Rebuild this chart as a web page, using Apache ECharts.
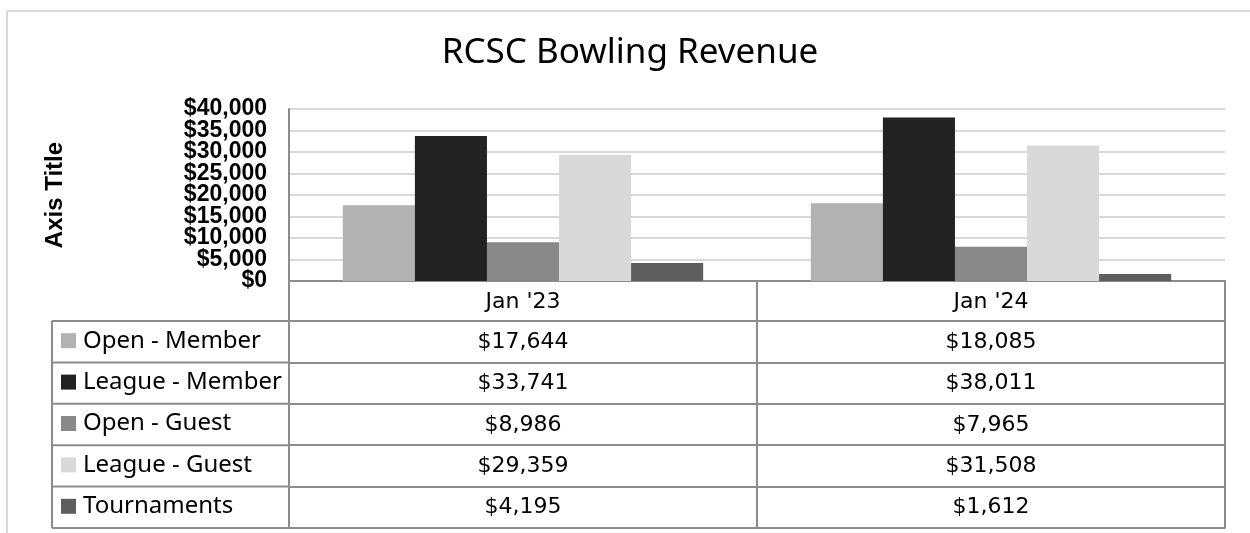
<!DOCTYPE html>
<html>
<head>
<meta charset="utf-8">
<script src="https://cdn.jsdelivr.net/npm/echarts@6/dist/echarts.min.js"></script>
<style>
  html, body { margin: 0; padding: 0; background: #fff; }
  #chart { width: 1250px; height: 533px; }
</style>
</head>
<body>
<div id="chart"></div>
<script>
// Revenue per month, by booking type
const categories = ["Jan '23", "Jan '24"];
const seriesNames = ['Open - Member', 'League - Member', 'Open - Guest', 'League - Guest', 'Tournaments'];
const openMember = [17644, 18085];
const leagueMember = [33741, 38011];
const openGuest = [8986, 7965];
const leagueGuest = [29359, 31508];
const tournaments = [4195, 1612];
const yTicks = { min: 0, max: 40000, interval: 5000 };
const yTickLabels = ['$0', '$5,000', '$10,000', '$15,000', '$20,000', '$25,000', '$30,000', '$35,000', '$40,000'];

const seriesValues = [openMember, leagueMember, openGuest, leagueGuest, tournaments];
const seriesColors = ['#b2b2b2', '#222222', '#898989', '#d9d9d9', '#5e5e5e'];

// layout of plot area and data table
const W = 1250, H = 533;
const plotLeft = 289, plotRight = 1225, plotTop = 109, plotBottom = 281;
const headerH = 40, rowH = 41.4;
const tableLeft = 52;
const lineColor = '#8c8c8c';
const legendFont = 24;

const money = v => '$' + Number(v).toLocaleString('en-US');

const xAxes = [];
// header row of the table: category names
xAxes.push({
  type: 'category', data: categories, position: 'bottom', offset: 0,
  axisLine: { show: true, lineStyle: { color: lineColor, width: 2 } },
  axisTick: { show: true, length: headerH, lineStyle: { color: lineColor, width: 2 } },
  axisLabel: { margin: 10, fontFamily: 'DejaVu Sans', fontSize: 22, color: '#000' }
});
// one row per series, values printed under each category
seriesValues.forEach((vals, i) => {
  xAxes.push({
    type: 'category', data: categories, position: 'bottom', offset: headerH + i * rowH,
    axisLine: { show: true, lineStyle: { color: lineColor, width: 2 } },
    axisTick: { show: true, length: rowH, lineStyle: { color: lineColor, width: 2 } },
    axisLabel: {
      margin: 10, fontFamily: 'DejaVu Sans', fontSize: 22, color: '#000',
      formatter: (v, idx) => money(vals[idx])
    }
  });
});
// closing line under the last row
xAxes.push({
  type: 'category', data: categories, position: 'bottom', offset: headerH + seriesValues.length * rowH,
  axisLine: { show: true, lineStyle: { color: lineColor, width: 2 } },
  axisTick: { show: false }, axisLabel: { show: false }
});

// left column of the table (legend cells)
const tableGraphics = [];
const rowsTop = plotBottom + headerH;
for (let i = 0; i <= seriesValues.length; i++) {
  const y = rowsTop + i * rowH;
  tableGraphics.push({
    type: 'line', silent: true,
    shape: { x1: tableLeft, y1: y, x2: plotLeft, y2: y },
    style: { stroke: lineColor, lineWidth: 2 }
  });
}
tableGraphics.push({
  type: 'line', silent: true,
  shape: { x1: tableLeft, y1: rowsTop, x2: tableLeft, y2: rowsTop + seriesValues.length * rowH },
  style: { stroke: lineColor, lineWidth: 2 }
});
// chart area frame
tableGraphics.push({
  type: 'rect', silent: true, z: -1,
  shape: { x: 7, y: 11, width: W + 20, height: H + 20 },
  style: { fill: 'none', stroke: '#d9d9d9', lineWidth: 2 }
});

const chart = echarts.init(document.getElementById('chart'), null, { renderer: 'canvas' });
chart.setOption({
  animation: false,
  backgroundColor: '#fff',
  title: {
    text: 'RCSC Bowling Revenue',
    left: 630, top: 36, textAlign: 'center', padding: 0,
    textStyle: { fontFamily: 'Noto Sans', fontWeight: 'normal', fontSize: 35, color: '#000' }
  },
  legend: {
    orient: 'vertical', left: 61, top: rowsTop + rowH / 2 - legendFont / 2 - 1, padding: 0,
    itemWidth: 15, itemHeight: 15, itemGap: rowH - legendFont, icon: 'rect',
    selectedMode: false,
    textStyle: { fontFamily: 'Noto Sans', fontSize: legendFont, lineHeight: legendFont, color: '#000', padding: [0, 0, 0, 2] },
    data: seriesNames
  },
  grid: { left: plotLeft, right: W - plotRight, top: plotTop, bottom: H - plotBottom, containLabel: false },
  xAxis: xAxes,
  yAxis: [
    {
      // value scale for the bars, gridlines and axis title
      type: 'value', min: yTicks.min, max: yTicks.max, interval: yTicks.interval,
      name: 'Axis Title', nameLocation: 'middle', nameRotate: 90, nameGap: 222,
      nameTextStyle: { fontFamily: 'Liberation Sans', fontWeight: 'bold', fontSize: 24, color: '#000' },
      axisLine: { show: true, lineStyle: { color: lineColor, width: 2 } },
      axisTick: { show: false },
      axisLabel: { show: false },
      splitLine: { lineStyle: { color: '#d9d9d9', width: 2 } }
    },
    {
      // tick labels: densely packed, every one kept
      type: 'category', data: yTickLabels, boundaryGap: false, position: 'left',
      axisLine: { show: false }, axisTick: { show: false }, splitLine: { show: false },
      axisLabel: {
        interval: 0, margin: 22, fontFamily: 'Liberation Sans', fontWeight: 'bold',
        fontSize: 23, color: '#000'
      }
    }
  ],
  series: seriesNames.map((name, i) => ({
    name, type: 'bar', xAxisIndex: 0, yAxisIndex: 0, data: seriesValues[i],
    barGap: 0, barCategoryGap: '23%',
    itemStyle: { color: seriesColors[i] }
  })),
  graphic: tableGraphics
});
</script>
</body>
</html>
